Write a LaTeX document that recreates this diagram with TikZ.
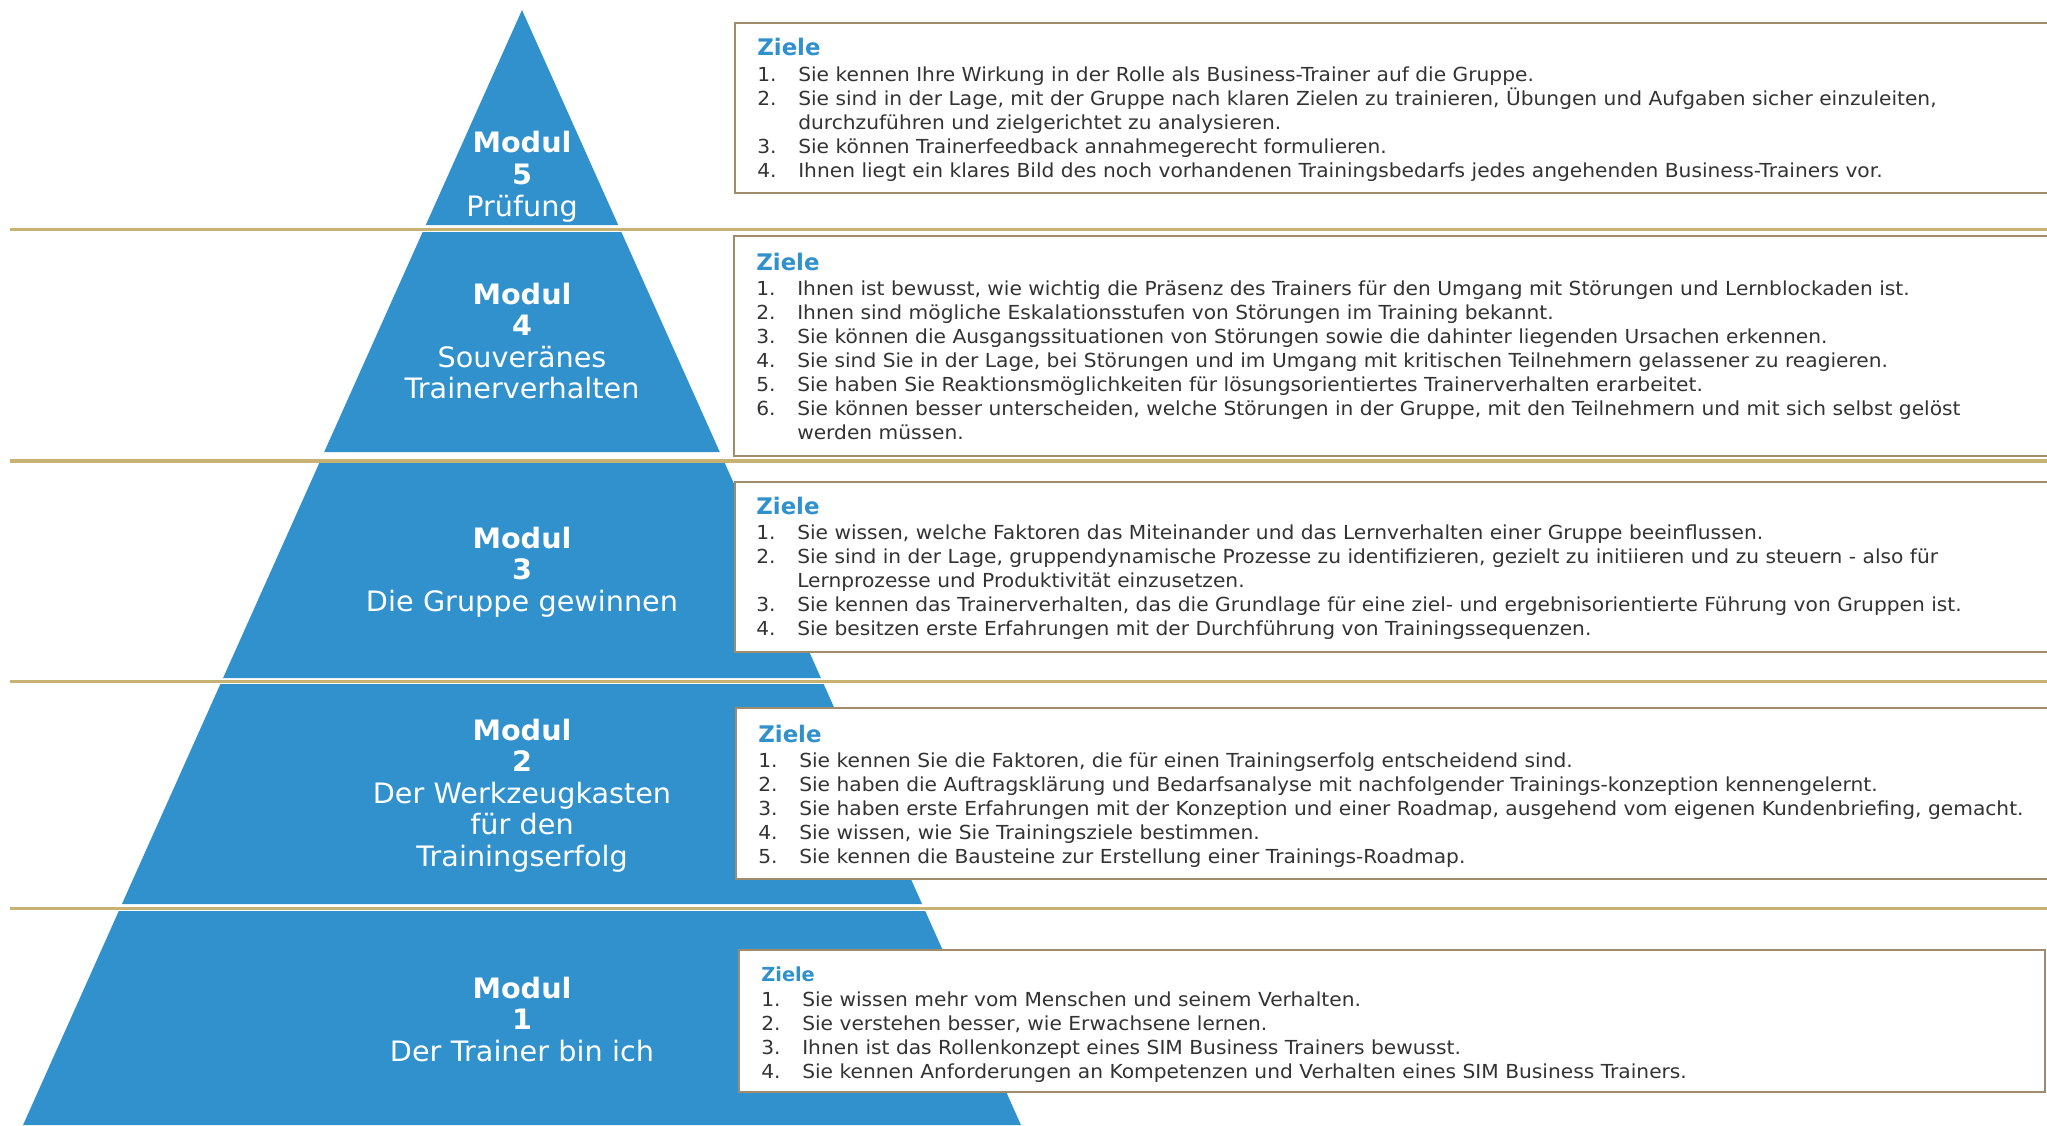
\documentclass[tikz,border=0pt]{standalone}
\usepackage{fontspec}
\setmainfont{DejaVu Sans}
\newfontfamily\zielfont{DejaVu Sans}[FakeStretch=1.045]
\newfontfamily\modulfont{DejaVu Sans}[FakeStretch=1.02]
\usepackage{xcolor}
\usepackage{tikz}
\usetikzlibrary{positioning}

\definecolor{pyrblue}{HTML}{3091CD}
\definecolor{goldline}{HTML}{C8B273}
\definecolor{boxframe}{HTML}{A08C6C}
\definecolor{bodytext}{HTML}{333333}

\newcommand{\zielhead}[1][13]{{\normalfont\fontsize{#1}{15}\selectfont\bfseries\color{pyrblue}Ziele\par}\vspace{1.1pt}}
\newcommand{\zielitem}[2]{\par\hangindent=23.3pt\hangafter=1\noindent\makebox[23.3pt][l]{#1.}#2}

\begin{document}
\begin{tikzpicture}[x=0.02cm, y=-0.02cm,
  modul/.style={text=white, font=\modulfont\fontsize{16}{18}\selectfont, text width=9cm, align=center, anchor=base, inner sep=0pt},
  ziele/.style={text=bodytext, font=\zielfont\fontsize{11}{13.6}\selectfont, text width=28cm, align=left, anchor=base west, inner sep=0pt},
  zielbox/.style={draw=boxframe, line width=1.4pt, fill=white},
  sep/.style={draw=goldline, line width=1.9pt}]
  \useasboundingbox (0,0) rectangle (2047,1125);

  \foreach \ytop/\ybot in {10/225, 232/452, 463/678, 684/904, 911/1125}
    \fill[pyrblue] ({522-0.4475*(\ytop-10)},\ytop) -- ({522+0.4475*(\ytop-10)},\ytop)
      -- ({522+0.4475*(\ybot-10)},\ybot) -- ({522-0.4475*(\ybot-10)},\ybot) -- cycle;

  \foreach \yl in {229.5, 461, 681.5, 908.5}
    \draw[sep] (10,\yl) -- (2060,\yl);

  \draw[zielbox] (735,23) rectangle (2060,193);
  \draw[zielbox] (734,236) rectangle (2060,456);
  \draw[zielbox] (735,482) rectangle (2060,652);
  \draw[zielbox] (736,708) rectangle (2060,879);
  \draw[zielbox] (739,950) rectangle (2045,1092);

  \node[modul] (m5) at (522,153) {\textbf{Modul}\\\textbf{5}\\Prüfung};
  \node[modul] (m4) at (522,304) {\textbf{Modul}\\\textbf{4}\\Souveränes\\Trainerverhalten};
  \node[modul] (m3) at (522,548) {\textbf{Modul}\\\textbf{3}\\Die Gruppe gewinnen};
  \node[modul] (m2) at (522,740) {\textbf{Modul}\\\textbf{2}\\Der Werkzeugkasten\\für den\\Trainingserfolg};
  \node[modul] (m1) at (522,998) {\textbf{Modul}\\\textbf{1}\\Der Trainer bin ich};

  \node[ziele] (z5) at (757,56) {\zielhead
    \zielitem{1}{Sie kennen Ihre Wirkung in der Rolle als Business-Trainer auf die Gruppe.}
    \zielitem{2}{Sie sind in der Lage, mit der Gruppe nach klaren Zielen zu trainieren, Übungen und Aufgaben sicher einzuleiten,\newline durchzuführen und zielgerichtet zu analysieren.}
    \zielitem{3}{Sie können Trainerfeedback annahmegerecht formulieren.}
    \zielitem{4}{Ihnen liegt ein klares Bild des noch vorhandenen Trainingsbedarfs jedes angehenden Business-Trainers vor.}\par};
  \node[ziele] (z4) at (756,270) {\zielhead
    \zielitem{1}{Ihnen ist bewusst, wie wichtig die Präsenz des Trainers für den Umgang mit Störungen und Lernblockaden ist.}
    \zielitem{2}{Ihnen sind mögliche Eskalationsstufen von Störungen im Training bekannt.}
    \zielitem{3}{Sie können die Ausgangssituationen von Störungen sowie die dahinter liegenden Ursachen erkennen.}
    \zielitem{4}{Sie sind Sie in der Lage, bei Störungen und im Umgang mit kritischen Teilnehmern gelassener zu reagieren.}
    \zielitem{5}{Sie haben Sie Reaktionsmöglichkeiten für lösungsorientiertes Trainerverhalten erarbeitet.}
    \zielitem{6}{Sie können besser unterscheiden, welche Störungen in der Gruppe, mit den Teilnehmern und mit sich selbst gelöst\newline werden müssen.}\par};
  \node[ziele] (z3) at (756,514) {\zielhead
    \zielitem{1}{Sie wissen, welche Faktoren das Miteinander und das Lernverhalten einer Gruppe beeinflussen.}
    \zielitem{2}{Sie sind in der Lage, gruppendynamische Prozesse zu identifizieren, gezielt zu initiieren und zu steuern - also für\newline Lernprozesse und Produktivität einzusetzen.}
    \zielitem{3}{Sie kennen das Trainerverhalten, das die Grundlage für eine ziel- und ergebnisorientierte Führung von Gruppen ist.}
    \zielitem{4}{Sie besitzen erste Erfahrungen mit der Durchführung von Trainingssequenzen.}\par};
  \node[ziele] (z2) at (758,742) {\zielhead
    \zielitem{1}{Sie kennen Sie die Faktoren, die für einen Trainingserfolg entscheidend sind.}
    \zielitem{2}{Sie haben die Auftragsklärung und Bedarfsanalyse mit nachfolgender Trainings-konzeption kennengelernt.}
    \zielitem{3}{Sie haben erste Erfahrungen mit der Konzeption und einer Roadmap, ausgehend vom eigenen Kundenbriefing, gemacht.}
    \zielitem{4}{Sie wissen, wie Sie Trainingsziele bestimmen.}
    \zielitem{5}{Sie kennen die Bausteine zur Erstellung einer Trainings-Roadmap.}\par};
  \node[ziele] (z1) at (761,981) {\zielhead[11]
    \zielitem{1}{Sie wissen mehr vom Menschen und seinem Verhalten.}
    \zielitem{2}{Sie verstehen besser, wie Erwachsene lernen.}
    \zielitem{3}{Ihnen ist das Rollenkonzept eines SIM Business Trainers bewusst.}
    \zielitem{4}{Sie kennen Anforderungen an Kompetenzen und Verhalten eines SIM Business Trainers.}\par};
\end{tikzpicture}
\end{document}
